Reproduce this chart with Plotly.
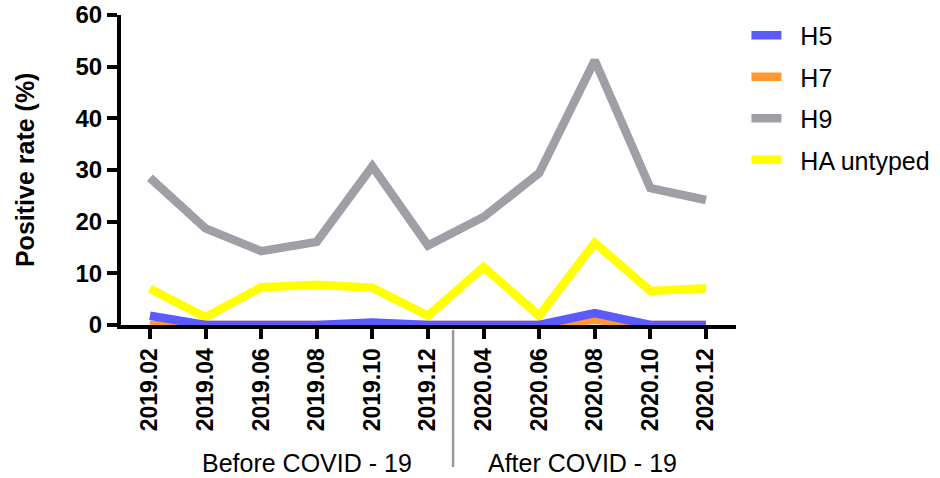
import plotly.graph_objects as go

# Sampling months (bi-monthly), positive rates in percent
months = ["2019.02", "2019.04", "2019.06", "2019.08", "2019.10", "2019.12",
          "2020.04", "2020.06", "2020.08", "2020.10", "2020.12"]
h5 = [1.8, 0, 0, 0, 0.5, 0, 0, 0, 2.3, 0, 0]
h7 = [0, 0, 0, 0, 0, 0, 0, 0, 1.0, 0, 0]
h9 = [28.5, 18.7, 14.3, 16.1, 30.7, 15.4, 20.9, 29.4, 51.2, 26.5, 24.2]
ha_untyped = [7.0, 1.5, 7.3, 7.8, 7.2, 1.8, 11.2, 1.8, 15.9, 6.6, 7.1]

y_ticks = [0, 10, 20, 30, 40, 50, 60]
period_labels = ["Before COVID - 19", "After COVID - 19"]

FONT = "Liberation Sans, Arial, Helvetica, sans-serif"
PAD = "\u00a0\u00a0"  # small gap between legend swatch and label

# drawing order (back to front) with legend rank for display order
series = [
    ("H9", h9, "#a09fa6", 3),
    ("HA untyped", ha_untyped, "#ffff00", 4),
    ("H7", h7, "#ff9933", 2),
    ("H5", h5, "#5a5aff", 1),
]

fig = go.Figure()
for name, vals, color, rank in series:
    fig.add_trace(go.Scatter(
        x=months, y=vals, name=PAD + name, mode="lines",
        line=dict(color=color, width=8.5),
        legendrank=rank, legendgroup=name,
    ))

fig.update_layout(
    width=940, height=478,
    margin=dict(l=121, r=204, t=15, b=153, autoexpand=False),
    plot_bgcolor="white", paper_bgcolor="white",
    font=dict(family=FONT, color="black"),
    showlegend=True,
    legend=dict(
        x=1.017, xanchor="left", y=1.008, yanchor="top",
        font=dict(family=FONT, size=25, color="black"),
        itemwidth=30, tracegroupgap=6,
        bgcolor="rgba(0,0,0,0)",
    ),
)

fig.update_xaxes(
    type="category", range=[-0.52, 10.54],
    showline=True, linecolor="black", linewidth=4,
    ticks="outside", ticklen=10, tickwidth=4, tickcolor="black",
    tickangle=-90, tickfont=dict(family=FONT, size=23, color="black", weight="bold"),
    showgrid=False, zeroline=False, layer="below traces",
)
fig.update_yaxes(
    range=[0, 60], tickvals=y_ticks,
    showline=True, linecolor="black", linewidth=4,
    ticks="outside", ticklen=10, tickwidth=4, tickcolor="black",
    tickfont=dict(family=FONT, size=24, color="black", weight="bold"),
    showgrid=False, zeroline=False, layer="below traces",
)

# y axis title
fig.add_annotation(
    text="<b>Positive rate (%)</b>", textangle=-90,
    xref="paper", yref="paper", x=-0.156, y=0.5,
    xanchor="center", yanchor="middle", showarrow=False,
    font=dict(family=FONT, size=25, color="black"),
)

# period divider below the axis
fig.add_shape(
    type="line", xref="paper", yref="paper",
    x0=0.54, x1=0.54, y0=-0.016, y1=-0.458,
    line=dict(color="#999999", width=2.5),
)

# period labels
for label, xpos in zip(period_labels, [0.303, 0.751]):
    fig.add_annotation(
        text=label, xref="paper", yref="paper", x=xpos, y=-0.445,
        xanchor="center", yanchor="middle", showarrow=False,
        font=dict(family=FONT, size=25, color="black"),
    )

fig.write_html("out.html")
